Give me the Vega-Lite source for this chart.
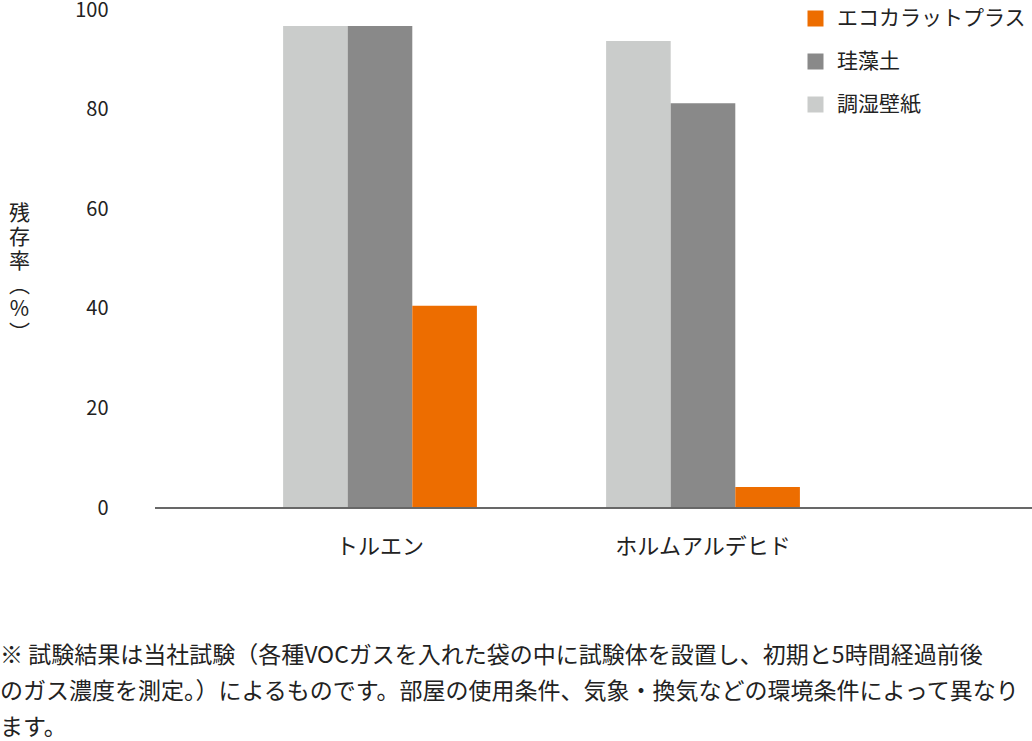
{
  "$schema": "https://vega.github.io/schema/vega-lite/v6.json",
  "width": 877,
  "height": 498,
  "autosize": {"type": "none"},
  "padding": {"left": 155, "top": 10, "right": 0, "bottom": 233},
  "background": "#ffffff",
  "config": {
    "view": {"stroke": null},
    "font": "Noto Sans CJK JP",
    "axis": {"labelFont": "Noto Sans CJK JP", "titleFont": "Noto Sans CJK JP", "labelColor": "#222222", "titleColor": "#222222"},
    "legend": {"labelFont": "Noto Sans CJK JP", "labelColor": "#222222"}
  },
  "title": {
    "text": [
      "※ 試験結果は当社試験（各種VOCガスを入れた袋の中に試験体を設置し、初期と5時間経過前後",
      "のガス濃度を測定。）によるものです。部屋の使用条件、気象・換気などの環境条件によって異なり",
      "ます。"
    ],
    "orient": "bottom",
    "anchor": "start",
    "frame": "group",
    "dx": -155,
    "offset": 88,
    "fontSize": 23,
    "fontWeight": "normal",
    "lineHeight": 36,
    "color": "#222222",
    "font": "Noto Sans CJK JP"
  },
  "data": {
    "values": [
      {"gas": "トルエン", "material": "調湿壁紙", "value": 96.8},
      {"gas": "トルエン", "material": "珪藻土", "value": 96.8},
      {"gas": "トルエン", "material": "エコカラットプラス", "value": 40.6},
      {"gas": "ホルムアルデヒド", "material": "調湿壁紙", "value": 93.8},
      {"gas": "ホルムアルデヒド", "material": "珪藻土", "value": 81.3},
      {"gas": "ホルムアルデヒド", "material": "エコカラットプラス", "value": 4.2}
    ]
  },
  "layer": [
    {
      "mark": {"type": "bar"},
      "encoding": {
        "x": {
          "field": "gas",
          "type": "nominal",
          "scale": {"domain": ["トルエン", "ホルムアルデヒド"], "range": [63.5, 709.5], "paddingInner": 0.4, "paddingOuter": 0.2},
          "axis": {"title": null, "domain": false, "ticks": false, "labelAngle": 0, "labelFontSize": 22, "labelPadding": 28}
        },
        "xOffset": {
          "field": "material",
          "type": "nominal",
          "scale": {"domain": ["調湿壁紙", "珪藻土", "エコカラットプラス"], "paddingInner": 0, "paddingOuter": 0}
        },
        "y": {
          "field": "value",
          "type": "quantitative",
          "scale": {"domain": [0, 100], "nice": false},
          "axis": {
            "values": [0, 20, 40, 60, 80, 100],
            "domain": false,
            "ticks": false,
            "grid": false,
            "labelFontSize": 20,
            "labelPadding": 47,
            "title": ["残", "存", "率", "︵", "%", "︶"],
            "titleAngle": 0,
            "titleFontSize": 21,
            "titleFontWeight": "normal",
            "titleLineHeight": 24,
            "titleAlign": "center",
            "titleBaseline": "top",
            "titleX": -136,
            "titleY": 192
          }
        },
        "color": {
          "field": "material",
          "type": "nominal",
          "scale": {"domain": ["エコカラットプラス", "珪藻土", "調湿壁紙"], "range": ["#ED6D00", "#898989", "#CACCCB"]},
          "legend": {
            "title": null,
            "orient": "none",
            "legendX": 650,
            "legendY": -2,
            "symbolType": "square",
            "symbolSize": 256,
            "symbolStrokeWidth": 0,
            "labelFontSize": 21,
            "labelOffset": 11,
            "labelLimit": 300,
            "rowPadding": 21
          }
        }
      }
    },
    {
      "mark": {"type": "rule", "color": "#666666", "strokeWidth": 1},
      "encoding": {"y": {"datum": 0}}
    }
  ]
}
